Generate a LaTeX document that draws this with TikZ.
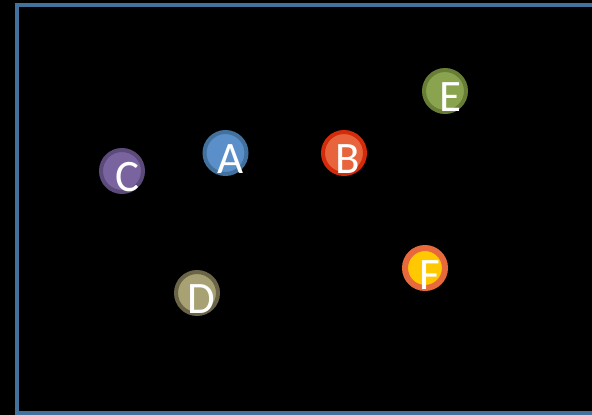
\documentclass[tikz,border=0pt]{standalone}
\usepackage{fontspec}
\setmainfont{Carlito}
\definecolor{frameblue}{HTML}{41719C}
\definecolor{aout}{HTML}{41719C}\definecolor{ain}{HTML}{5B8FCA}
\definecolor{bout}{HTML}{D42B0B}\definecolor{bin}{HTML}{E8643C}
\definecolor{cout}{HTML}{5C4B7A}\definecolor{cin}{HTML}{7A64A0}
\definecolor{dout}{HTML}{6B6547}\definecolor{din}{HTML}{A8A173}
\definecolor{eout}{HTML}{687E36}\definecolor{ein}{HTML}{8AA34E}
\definecolor{fout}{HTML}{E86A3C}\definecolor{fin}{HTML}{FFC800}
\begin{document}
\begin{tikzpicture}[x=1pt,y=-1pt,
  ball/.style={circle,inner sep=0pt,minimum size=42pt,line width=4pt},
  fball/.style={circle,inner sep=0pt,minimum size=40pt,line width=6pt},
  letter/.style={text=white,font=\fontsize{45}{45}\selectfont,anchor=base,inner sep=0pt}]
\fill[black] (0,0) rectangle (592,415);
\useasboundingbox (0,0) rectangle (592,415);
\draw[frameblue,line width=4pt] (600,4.5) -- (17,4.5) -- (17,412.5) -- (600,412.5);
\node[ball,draw=aout,fill=ain] (A) at (225.5,153) {};
\node[ball,draw=bout,fill=bin] (B) at (344,153) {};
\node[ball,draw=cout,fill=cin] (C) at (122,171) {};
\node[ball,draw=dout,fill=din] (D) at (197,293) {};
\node[ball,draw=eout,fill=ein] (E) at (445,91) {};
\node[fball,draw=fout,fill=fin] (F) at (425,268) {};
\node[letter] (Al) at ([shift={(5,20)}]A.center) {A};
\node[letter] (Bl) at ([shift={(4,20)}]B.center) {B};
\node[letter] (Cl) at ([shift={(5,20)}]C.center) {C};
\node[letter] (Dl) at ([shift={(4,20)}]D.center) {D};
\node[letter] (El) at ([shift={(5,20)}]E.center) {E};
\node[letter] (Fl) at ([shift={(5,21)}]F.center) {F};
\end{tikzpicture}
\end{document}
